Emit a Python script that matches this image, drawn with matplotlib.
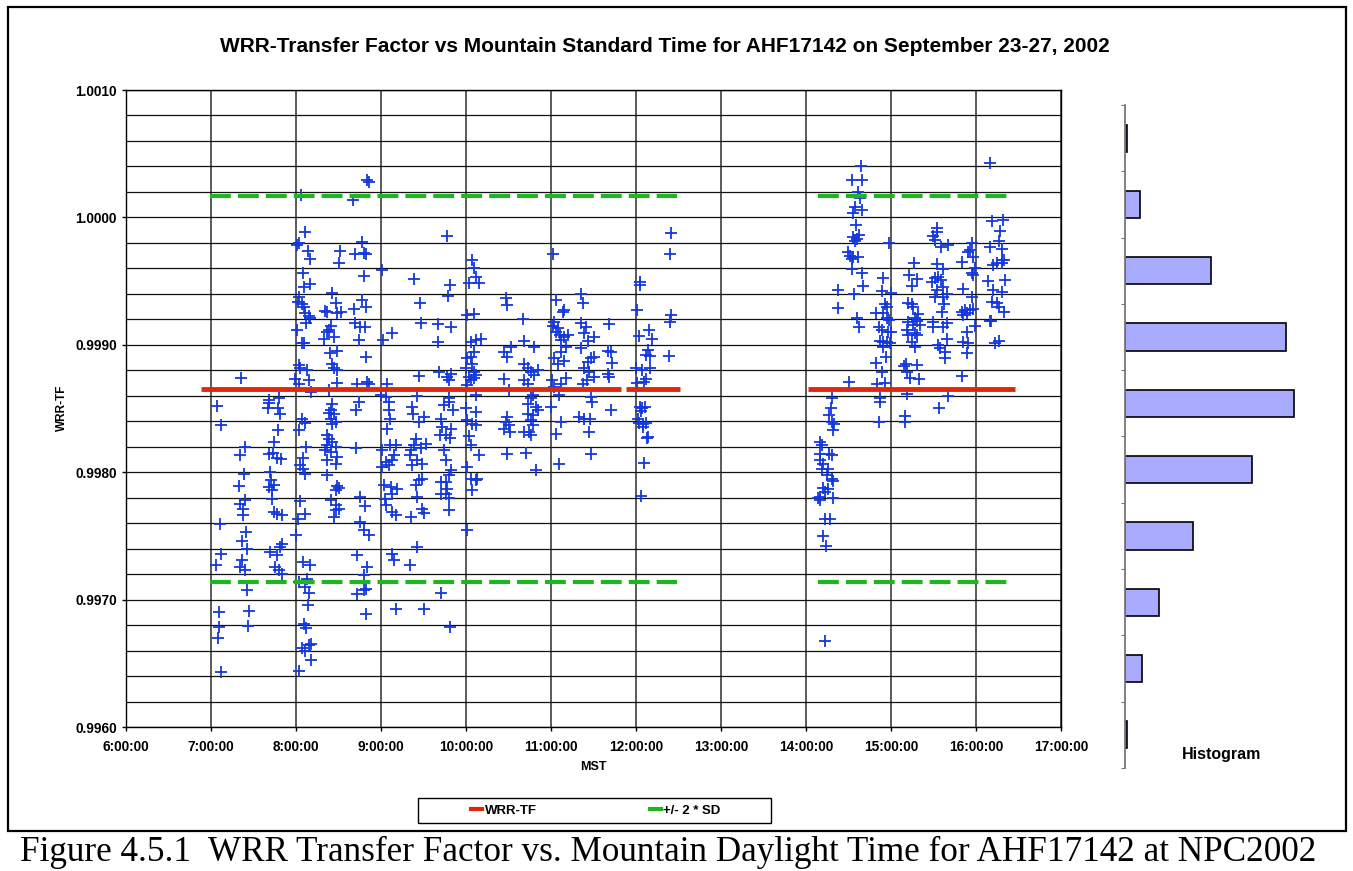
import matplotlib.pyplot as plt
from matplotlib.lines import Line2D
from matplotlib.patches import Rectangle

# measurements: MST in decimal hours, WRR transfer factor
am_time = [
    8.064, 8.111, 8.013, 8.040, 8.142, 8.170, 8.079, 8.091, 8.162, 8.032,
    8.020, 8.071, 8.091, 8.111, 8.150, 8.170, 8.123, 8.013, 8.071, 8.099,
    8.032, 8.052, 8.130, 7.993, 8.150, 8.032, 8.178, 7.352, 7.804, 7.678,
    7.069, 7.678, 7.667, 7.785, 7.816, 7.116, 8.071, 8.111, 8.032, 7.789,
    7.403, 7.344, 7.745, 7.678, 7.730, 7.777, 7.824, 8.123, 8.079, 8.044,
    8.083, 8.103, 7.384, 7.333, 7.690, 7.706, 7.678, 7.737, 7.722, 7.403,
    7.344, 7.376, 7.372, 7.718, 7.737, 7.777, 7.836, 8.044, 8.111, 8.020,
    8.005, 7.101, 7.415, 7.364, 7.423, 7.364, 7.344, 7.403, 7.836, 7.816,
    7.698, 7.777, 7.116, 7.061, 7.757, 7.796, 7.836, 8.083, 8.170, 8.130,
    8.032, 8.111, 8.150, 8.142, 7.423, 7.097, 7.443, 7.089, 7.435, 7.077,
    8.091, 8.119, 8.071, 8.150, 8.178, 8.111, 8.182, 7.120, 8.036,
    8.838, 8.854, 8.669, 9.781, 8.771, 8.512, 8.693, 8.799, 8.819, 8.504,
    9.015, 8.799, 9.388, 9.809, 9.793, 8.426, 8.465, 8.367, 8.343, 8.485,
    8.524, 8.771, 8.826, 8.681, 9.455, 9.467, 9.671, 9.821, 8.693, 8.748,
    8.811, 8.406, 8.386, 8.367, 8.445, 8.335, 9.133, 9.023, 8.740, 9.671,
    8.398, 8.485, 8.819, 8.426, 8.445, 8.485, 9.447, 9.683, 9.781, 9.821,
    9.801, 8.485, 8.720, 8.838, 8.858, 9.074, 8.386, 8.995, 9.054, 9.428,
    9.801,
    8.426, 8.406, 8.386, 8.445, 8.406, 8.465, 8.740, 8.701, 9.094, 9.094,
    9.102, 9.074, 9.369, 9.381, 9.506, 9.447, 9.801, 9.742, 9.852, 9.711,
    9.722, 9.829, 9.691, 9.762, 9.809, 8.367, 8.386, 8.426, 8.367, 8.465,
    8.347, 8.406, 8.485, 8.367, 8.465, 8.367, 8.701, 9.105, 9.015, 9.172,
    9.153, 9.133, 9.054, 9.094, 9.015, 9.408, 9.388, 9.467, 9.526, 9.349,
    9.341, 9.428, 9.369, 9.487, 9.742, 9.762, 9.821, 9.801, 9.703, 9.762,
    8.485, 8.465, 8.504, 9.035, 9.113, 9.192, 9.125, 9.408, 9.447, 9.487,
    9.428, 9.703, 9.762, 9.801, 9.774, 8.748, 8.811, 8.406, 8.465, 8.504,
    8.465, 8.445, 9.043, 9.062, 9.133, 9.172, 9.357, 9.487, 9.506, 9.801,
    8.748, 8.799, 8.858, 9.428, 8.720, 8.838, 8.799, 9.133, 9.153, 9.341,
    8.826, 8.799, 8.712, 9.711, 8.826, 9.172, 9.506, 9.813, 8.426,
    11.019, 10.076, 10.095, 10.115, 10.036, 10.154, 10.469, 10.488, 11.058, 11.156,
    11.137, 11.353, 11.372, 10.017, 10.095, 10.665, 11.038, 11.019, 11.078, 11.058,
    11.109, 11.156, 11.196, 11.117, 11.353, 11.412, 11.384, 11.510, 11.431, 10.056,
    10.115, 10.174, 10.685, 10.803, 10.528, 10.449, 10.488, 10.095, 10.056, 10.017,
    10.076, 9.997, 10.095, 10.036, 10.095, 10.056, 10.115, 10.017, 10.685, 10.724,
    10.763, 10.842, 10.803, 10.449, 10.685, 10.724, 11.038, 11.078, 11.156, 11.117,
    11.176, 11.009, 11.038, 11.117, 11.176, 11.097, 11.353, 11.431, 11.471, 11.510,
    11.392, 11.451, 11.502, 11.372, 11.424, 11.471, 10.115, 10.508, 10.763, 10.783,
    9.997, 10.115, 10.017, 10.076, 10.115, 10.724, 10.822, 10.842, 10.724, 10.783,
    10.763, 10.783, 10.685, 10.744, 10.763, 10.488, 10.469, 10.508, 10.449, 10.520,
    11.000, 11.117, 11.058, 11.333, 11.392, 11.463, 11.479, 11.451, 10.036, 10.056,
    10.154, 10.017, 10.056, 10.115, 10.135, 10.076, 10.488, 10.704, 10.822, 11.097,
    11.471, 10.009,
    12.407, 12.396, 12.050, 12.042, 12.011, 12.415, 12.404, 11.688, 12.152, 12.034,
    12.187, 11.669, 11.700, 12.140, 12.121, 12.160, 12.388, 11.720, 11.669, 11.688,
    12.003, 12.073, 12.160, 12.121, 12.093, 12.014, 11.708, 12.042, 12.069, 12.101,
    12.054, 12.022, 12.034, 12.081, 12.121, 12.081, 12.140, 12.128, 12.089, 12.062,
]
am_tf = [
    1.000176, 0.999882, 0.999783, 0.999796, 0.999736, 0.999673, 0.999560, 0.999456, 0.999477, 0.999377,
    0.999338, 0.999320, 0.999299, 0.999251, 0.999228, 0.999207, 0.999173, 0.999115, 0.999016, 0.999011,
    0.998840, 0.998814, 0.998801, 0.998728, 0.998723, 0.998696, 0.998631, 0.998736, 0.998579, 0.998566,
    0.998518, 0.998544, 0.998507, 0.998500, 0.998455, 0.998369, 0.998421, 0.998387, 0.998335, 0.998329,
    0.998198, 0.998133, 0.998238, 0.998146, 0.998151, 0.998115, 0.998107, 0.998198, 0.998115, 0.998054,
    0.998028, 0.997989, 0.997984, 0.997890, 0.998002, 0.997937, 0.997884, 0.997897, 0.997858, 0.997785,
    0.997753, 0.997714, 0.997662, 0.997790, 0.997688, 0.997675, 0.997662, 0.997774, 0.997675, 0.997636,
    0.997510, 0.997591, 0.997531, 0.997458, 0.997395, 0.997314, 0.997256, 0.997230, 0.997439, 0.997413,
    0.997374, 0.997348, 0.997361, 0.997269, 0.997256, 0.997230, 0.997198, 0.997295, 0.997269, 0.997164,
    0.997138, 0.997099, 0.997052, 0.996955, 0.997078, 0.996903, 0.996908, 0.996785, 0.996790, 0.996701,
    0.996806, 0.996777, 0.996622, 0.996641, 0.996654, 0.996596, 0.996523, 0.996431, 0.996439,
    1.000293, 1.000280, 1.000136, 0.999856, 0.999809, 0.999736, 0.999710, 0.999723, 0.999710, 0.999639,
    0.999586, 0.999539, 0.999513, 0.999469, 0.999382, 0.999403, 0.999325, 0.999259, 0.999264, 0.999251,
    0.999254, 0.999351, 0.999299, 0.999278, 0.999325, 0.999173, 0.999162, 0.999141, 0.999168, 0.999141,
    0.999141, 0.999147, 0.999115, 0.999102, 0.999058, 0.999042, 0.999089, 0.999037, 0.999037, 0.999024,
    0.998937, 0.998950, 0.998901, 0.998853, 0.998814, 0.998801, 0.998757, 0.998788, 0.998749, 0.998770,
    0.998723, 0.998704, 0.998696, 0.998709, 0.998696, 0.998696, 0.998644, 0.998605, 0.998592, 0.998597,
    0.998579,
    0.998539, 0.998486, 0.998466, 0.998460, 0.998421, 0.998395, 0.998552, 0.998486, 0.998552, 0.998486,
    0.998421, 0.998342, 0.998513, 0.998460, 0.998434, 0.998395, 0.998552, 0.998526, 0.998486, 0.998421,
    0.998356, 0.998342, 0.998290, 0.998290, 0.998272, 0.998290, 0.998264, 0.998238, 0.998212, 0.998198,
    0.998172, 0.998159, 0.998120, 0.998094, 0.998068, 0.997976, 0.998191, 0.998217, 0.998172, 0.998217,
    0.998133, 0.998094, 0.998081, 0.998055, 0.998041, 0.998264, 0.998212, 0.998193, 0.998225, 0.998172,
    0.998133, 0.998094, 0.998055, 0.998062, 0.998172, 0.998094, 0.998015, 0.997976, 0.997924, 0.997924,
    0.997890, 0.997858, 0.997879, 0.997903, 0.997884, 0.997871, 0.997832, 0.997897, 0.997937, 0.997945,
    0.997806, 0.997832, 0.997832, 0.997801, 0.997871, 0.997806, 0.997732, 0.997780, 0.997740, 0.997714,
    0.997701, 0.997649, 0.997787, 0.997740, 0.997688, 0.997662, 0.997649, 0.997714, 0.997680, 0.997701,
    0.997609, 0.997544, 0.997505, 0.997413, 0.997348, 0.997256, 0.997191, 0.997361, 0.997308, 0.997269,
    0.997086, 0.997073, 0.997047, 0.997054, 0.996889, 0.996929, 0.996924, 0.996785, 0.998382,
    0.999710, 0.999665, 0.999600, 0.999534, 0.999482, 0.999482, 0.999364, 0.999312, 0.999351, 0.999272,
    0.999259, 0.999398, 0.999330, 0.999233, 0.999238, 0.999199, 0.999181, 0.999147, 0.999128, 0.999102,
    0.999076, 0.999063, 0.999076, 0.999037, 0.999168, 0.999141, 0.999089, 0.999063, 0.999031, 0.999024,
    0.999037, 0.999045, 0.999029, 0.998984, 0.998984, 0.998945, 0.998906, 0.998945, 0.998906, 0.998893,
    0.998853, 0.998814, 0.998788, 0.998749, 0.998736, 0.998723, 0.998762, 0.998683, 0.998853, 0.998814,
    0.998788, 0.998801, 0.998762, 0.998728, 0.998723, 0.998696, 0.998893, 0.998853, 0.998874, 0.998945,
    0.998984, 0.998723, 0.998670, 0.998696, 0.998736, 0.998605, 0.998971, 0.998867, 0.998893, 0.998906,
    0.998814, 0.998788, 0.998749, 0.998696, 0.998723, 0.998592, 0.998605, 0.998644, 0.998579, 0.998605,
    0.998500, 0.998473, 0.998408, 0.998382, 0.998369, 0.998539, 0.998513, 0.998486, 0.998460, 0.998447,
    0.998408, 0.998369, 0.998316, 0.998316, 0.998290, 0.998434, 0.998395, 0.998369, 0.998342, 0.998316,
    0.998513, 0.998395, 0.998303, 0.998434, 0.998421, 0.998421, 0.998552, 0.998316, 0.998282, 0.998212,
    0.998133, 0.998041, 0.997945, 0.997937, 0.997950, 0.997858, 0.998141, 0.998154, 0.998020, 0.998062,
    0.998141, 0.997549,
    0.999874, 0.999712, 0.999495, 0.999468, 0.999272, 0.999233, 0.999180, 0.999160, 0.999120, 0.999068,
    0.999042, 0.998950, 0.998945, 0.998958, 0.998919, 0.998911, 0.998911, 0.998858, 0.998769, 0.998748,
    0.998814, 0.998801, 0.998819, 0.998735, 0.998709, 0.998704, 0.998492, 0.998513, 0.998500, 0.998508,
    0.998481, 0.998421, 0.998387, 0.998382, 0.998387, 0.998356, 0.998277, 0.998272, 0.998076, 0.997811,
]
pm_time = [
    14.643, 14.537, 14.662, 16.165, 14.615, 14.635, 14.576, 14.662, 14.549, 14.588,
    14.549, 14.627, 14.604, 14.576, 14.980, 14.498, 14.517, 14.557, 14.615, 14.537,
    14.537, 14.662, 14.372, 14.568, 14.666, 14.380, 14.596, 14.623, 16.184, 16.321,
    16.282, 16.274, 16.310, 16.165, 15.545, 15.537, 15.498, 15.517, 15.584, 15.666,
    15.957, 15.929, 15.910, 15.968, 15.839, 15.988, 15.949, 15.968, 16.204, 16.243,
    16.302, 16.329, 16.302, 15.270, 15.215, 15.310, 15.243, 14.910, 14.890, 14.996,
    15.537, 15.615, 15.517, 15.557, 15.584, 15.478, 15.608, 15.537, 15.655, 15.517,
    15.615, 15.623, 15.596, 15.851, 15.949, 16.341, 16.145, 16.204, 16.302, 16.192,
    16.243, 16.274, 16.329, 16.165, 15.204, 15.243, 15.262, 14.929, 14.949, 14.910,
    14.823, 14.957, 14.980, 15.321, 15.282, 15.302, 15.204, 15.262, 15.341, 15.184,
    15.282, 15.302, 15.204, 15.243, 15.282, 15.490, 15.498, 15.615, 15.655, 15.831,
    15.870, 15.929, 15.968, 15.851, 15.898, 15.988, 15.890, 15.851, 15.910, 15.890,
    15.655, 15.557, 15.576, 15.635, 15.635, 16.176, 16.270, 16.223, 14.862, 14.890,
    14.968, 14.996, 14.870, 14.910, 14.949, 14.988, 14.902, 14.941, 14.823, 14.890,
    15.176, 15.153, 15.302, 15.184, 15.223, 15.333, 15.831, 14.509, 14.839, 14.929,
    14.302, 14.870, 15.192, 15.666,
    14.290, 14.270, 14.309, 14.329, 14.321, 14.870, 14.859, 15.164, 15.164, 15.568,
    14.164, 14.184, 14.274, 14.302, 14.164, 14.164, 14.204, 14.184, 14.262, 14.243,
    14.302, 14.321, 14.204, 14.262, 14.223, 14.164, 14.145, 14.164, 14.321, 14.223,
    14.282, 14.204, 14.235, 14.223,
]
pm_tf = [
    1.000403, 1.000293, 1.000293, 1.000430, 1.000202, 1.000149, 1.000084, 1.000058, 1.000037, 0.999940,
    0.999848, 0.999861, 0.999827, 0.999817, 0.999801, 0.999731, 0.999696, 0.999691, 0.999691, 0.999670,
    0.999592, 0.999566, 0.999429, 0.999395, 0.999461, 0.999285, 0.999212, 0.999141, 0.999974, 0.999979,
    0.999895, 0.999817, 0.999751, 0.999765, 0.999914, 0.999888, 0.999854, 0.999822, 0.999770, 0.999783,
    0.999801, 0.999744, 0.999731, 0.999686, 0.999647, 0.999600, 0.999560, 0.999547, 0.999626, 0.999644,
    0.999665, 0.999665, 0.999639, 0.999639, 0.999547, 0.999516, 0.999461, 0.999526, 0.999424, 0.999408,
    0.999631, 0.999592, 0.999521, 0.999529, 0.999508, 0.999495, 0.999456, 0.999429, 0.999398, 0.999377,
    0.999377, 0.999320, 0.999259, 0.999435, 0.999377, 0.999508, 0.999500, 0.999429, 0.999416, 0.999338,
    0.999325, 0.999299, 0.999254, 0.999189, 0.999330, 0.999320, 0.999299, 0.999320, 0.999299, 0.999251,
    0.999251, 0.999207, 0.999194, 0.999238, 0.999207, 0.999189, 0.999176, 0.999155, 0.999155, 0.999120,
    0.999094, 0.999076, 0.999076, 0.999024, 0.998984, 0.999181, 0.999141, 0.999141, 0.999168, 0.999259,
    0.999272, 0.999272, 0.999278, 0.999233, 0.999251, 0.999147, 0.999102, 0.999024, 0.999016, 0.998932,
    0.999042, 0.998997, 0.998971, 0.998945, 0.998893, 0.999189, 0.999032, 0.999016, 0.999141, 0.999120,
    0.999102, 0.999102, 0.999029, 0.999024, 0.999024, 0.999016, 0.998984, 0.998906, 0.998861, 0.998788,
    0.998846, 0.998833, 0.998840, 0.998788, 0.998741, 0.998728, 0.998757, 0.998710, 0.998696, 0.998704,
    0.998586, 0.998586, 0.998613, 0.998597,
    0.998500, 0.998447, 0.998395, 0.998382, 0.998329, 0.998552, 0.998395, 0.998439, 0.998395, 0.998507,
    0.998238, 0.998212, 0.998146, 0.998138, 0.998146, 0.998099, 0.998068, 0.998028, 0.998028, 0.997976,
    0.997950, 0.997931, 0.997879, 0.997871, 0.997845, 0.997806, 0.997798, 0.997780, 0.997801, 0.997636,
    0.997636, 0.997497, 0.997421, 0.996675,
]

tf_mean = 0.998651
tf_2sd = 0.001516
mean_spans = [(6.88, 11.82), (11.88, 12.52), (14.02, 16.46)]
sd_spans = [(6.99, 12.48), (14.14, 16.40)]

hist_counts = [1, 9, 51, 95, 100, 75, 40, 20, 10, 1]

hour_ticks = list(range(6, 18))
tf_ticks = [0.9960, 0.9970, 0.9980, 0.9990, 1.0000, 1.0010]

title = "WRR-Transfer Factor vs Mountain Standard Time for AHF17142 on September 23-27, 2002"
caption = "Figure 4.5.1  WRR Transfer Factor vs. Mountain Daylight Time for AHF17142 at NPC2002"

RED = "#e2260c"
GREEN = "#1fb520"
BLUE = "#1438dc"

plt.rcParams['font.family'] = ['Liberation Sans', 'DejaVu Sans']

W, H = 1353, 871
fig = plt.figure(figsize=(W / 100, H / 100), dpi=100)


def box(x0, y0, x1, y1):
    # pixel box (top-left origin) -> figure fraction rect
    return [x0 / W, 1 - y1 / H, (x1 - x0) / W, (y1 - y0) / H]


ax = fig.add_axes(box(126, 90, 1061, 727))
ax.set_xlim(6, 17)
ax.set_ylim(0.9960, 1.0010)

ax.set_xticks(hour_ticks)
ax.set_xticklabels([f"{h}:00:00" for h in hour_ticks])
ax.set_yticks(tf_ticks)
ax.set_yticklabels([f"{v:.4f}" for v in tf_ticks])
ax.set_yticks([0.9960 + 0.0002 * i for i in range(26)], minor=True)
ax.tick_params(axis='both', which='major', labelsize=9.8, length=3, width=1)
ax.tick_params(axis='x', pad=6)
ax.tick_params(axis='y', pad=3.5)
ax.tick_params(axis='y', which='minor', length=0)
for lab in ax.get_xticklabels() + ax.get_yticklabels():
    lab.set_fontweight('bold')

ax.set_axisbelow(True)
ax.grid(axis='y', which='both', color='#111111', lw=0.9)
ax.grid(axis='x', which='major', color='#5a5a5a', lw=1.4)
for sp in ax.spines.values():
    sp.set_color('black')
    sp.set_linewidth(1)

ax.plot(am_time, am_tf, ls='none', marker='+', ms=8, mew=1.3, color=BLUE, zorder=3)
ax.plot(pm_time, pm_tf, ls='none', marker='+', ms=8, mew=1.3, color=BLUE, zorder=3)

for a, b in mean_spans:
    ax.plot([a, b], [tf_mean, tf_mean], color=RED, lw=3.5, solid_capstyle='butt', zorder=4)
for a, b in sd_spans:
    for lvl in (tf_mean + tf_2sd, tf_mean - tf_2sd):
        ax.plot([a, b], [lvl, lvl], color=GREEN, lw=3, dashes=(5, 1.7),
                dash_capstyle='butt', zorder=4)

fig.text(593 / W, 1 - 767 / H, "MST", ha='center', va='center', weight='bold', size=9)
fig.text(62 / W, 1 - 408 / H, "WRR-TF", ha='center', va='center', weight='bold',
         size=8.5, rotation=90)
fig.text(665 / W, 1 - 47 / H, title, ha='center', va='center', weight='bold', size=15)

# histogram panel
axh = fig.add_axes(box(1125, 105, 1325, 768))
axh.barh(range(len(hist_counts)), hist_counts, height=0.41, color='#a9abff',
         edgecolor='black', lw=1.2)
axh.set_ylim(len(hist_counts) - 0.5, -0.5)
axh.set_xlim(0, 118)
axh.set_yticks([i - 0.5 for i in range(len(hist_counts) + 1)])
axh.set_yticklabels([])
axh.set_xticks([])
axh.tick_params(axis='y', length=3, color='#777777')
for side in ('top', 'right', 'bottom'):
    axh.spines[side].set_visible(False)
axh.spines['left'].set_color('#777777')
axh.spines['left'].set_linewidth(1.3)
axh.patch.set_alpha(0)
fig.text(1222 / W, 1 - 754 / H, "Histogram", ha='center', va='center', weight='bold', size=11.5)

# legend
handles = [Line2D([], [], color=RED, lw=3), Line2D([], [], color=GREEN, lw=3)]
fig.legend(handles, ["WRR-TF", "+/- 2 * SD"], loc='center',
           bbox_to_anchor=(596 / W, 1 - 810.5 / H), ncol=2, frameon=False,
           handlelength=0.8, handletextpad=0.2, columnspacing=8.6,
           prop={'weight': 'bold', 'size': 9.5})
fig.add_artist(Rectangle((418 / W, 1 - 823 / H), 353 / W, 25 / H, transform=fig.transFigure,
                         fill=False, ec='black', lw=1))

# outer chart border and caption
fig.add_artist(Rectangle((8 / W, 1 - 831 / H), 1338 / W, 824 / H, transform=fig.transFigure,
                         fill=False, ec='black', lw=1.6))
fig.text(668 / W, 1 - 852 / H, caption, ha='center', va='center',
         family=['Liberation Serif', 'DejaVu Serif'], size=25.3)

fig.savefig("out.png", dpi=100)
